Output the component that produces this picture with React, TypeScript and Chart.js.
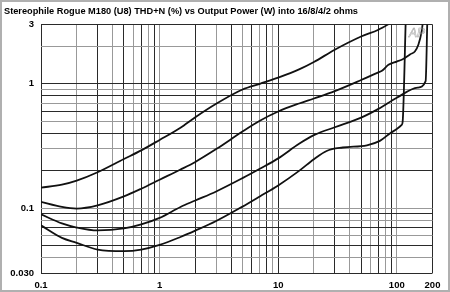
import React, { useEffect, useRef } from "react";
import { Chart, registerables } from "chart.js";

Chart.register(...registerables);

const TITLE = "Stereophile Rogue M180 (U8) THD+N (%) vs Output Power (W) into 16/8/4/2 ohms";
const LOGO = "AP";

// Curve 1 (highest at low power)
const power1 = [0.1, 0.15, 0.2, 0.3, 0.5, 0.7, 1, 1.5, 2, 3, 5, 7, 10, 15, 20, 30, 50, 70, 92];
const thd1 = [0.146, 0.154, 0.166, 0.194, 0.248, 0.291, 0.353, 0.443, 0.538, 0.69, 0.899, 1.0, 1.121, 1.305, 1.498, 1.879, 2.4, 2.72, 3.15];

// Curve 2
const power2 = [0.1, 0.15, 0.2, 0.3, 0.5, 0.7, 1, 1.5, 2, 3, 5, 7, 10, 15, 20, 30, 50, 70, 75, 85, 100, 110, 130, 142, 152, 162, 167];
const thd2 = [0.112, 0.102, 0.099, 0.105, 0.124, 0.143, 0.169, 0.204, 0.235, 0.298, 0.413, 0.504, 0.598, 0.694, 0.761, 0.873, 1.072, 1.237, 1.272, 1.42, 1.509, 1.56, 1.73, 1.82, 2.06, 2.64, 3.3];

// Curve 3
const power3 = [0.1, 0.15, 0.2, 0.3, 0.5, 0.7, 1, 1.5, 2, 3, 5, 7, 10, 15, 20, 30, 50, 70, 100, 150, 175, 181];
const thd3 = [0.0889, 0.0752, 0.0697, 0.066, 0.0685, 0.0738, 0.0833, 0.102, 0.115, 0.136, 0.174, 0.207, 0.251, 0.329, 0.386, 0.447, 0.534, 0.628, 0.772, 0.931, 1.05, 3.3];

// Curve 4 (lowest at low power)
const power4 = [0.1, 0.15, 0.2, 0.3, 0.5, 0.7, 1, 1.5, 2, 3, 5, 7, 10, 15, 20, 25.6, 35, 56, 72, 88, 100, 110, 112, 119];
const thd4 = [0.0725, 0.0575, 0.0525, 0.0463, 0.045, 0.0463, 0.0505, 0.0585, 0.0658, 0.0786, 0.1027, 0.124, 0.152, 0.199, 0.247, 0.288, 0.307, 0.32, 0.347, 0.4, 0.4325, 0.467, 0.493, 3.3];

const xGridTicks = [
  0.1, 0.2, 0.3, 0.4, 0.5, 0.6, 0.7, 0.8, 0.9,
  1, 2, 3, 4, 5, 6, 7, 8, 9,
  10, 20, 30, 40, 50, 60, 70, 80, 90,
  100, 200,
];
const xTickLabels: Record<string, string> = { "0.1": "0.1", "1": "1", "10": "10", "100": "100", "200": "200" };

const yGridTicks = [
  0.03, 0.04, 0.05, 0.06, 0.07, 0.08, 0.09,
  0.1, 0.2, 0.3, 0.4, 0.5, 0.6, 0.7, 0.8, 0.9,
  1, 2, 3,
];
const yTickLabels: Record<string, string> = { "0.03": "0.030", "0.1": "0.1", "1": "1", "3": "3" };

const toPoints = (xs: number[], ys: number[]) => xs.map((x, i) => ({ x, y: ys[i] }));

const FONT = "'Liberation Sans', Arial, sans-serif";

export default function App() {
  const ref = useRef<HTMLCanvasElement | null>(null);

  useEffect(() => {
    document.body.style.margin = "0";
    const canvas = ref.current!;
    const decor = {
      id: "decor",
      afterDraw(chart: any) {
        const ctx = chart.ctx;
        ctx.save();
        // title
        ctx.font = `bold 9.5px ${FONT}`;
        ctx.fillStyle = "#000";
        ctx.textBaseline = "alphabetic";
        ctx.textAlign = "left";
        const w = ctx.measureText(TITLE).width;
        const target = 354;
        ctx.translate(4, 14);
        ctx.scale(target / w, 1);
        ctx.fillText(TITLE, 0, 0);
        ctx.restore();
        // logo
        ctx.save();
        ctx.font = `italic 12px ${FONT}`;
        ctx.strokeStyle = "#999";
        ctx.lineWidth = 0.5;
        ctx.strokeText(LOGO, 409, 37);
        ctx.restore();
        // frame
        ctx.save();
        ctx.strokeStyle = "#b0b0b0";
        ctx.lineWidth = 2;
        ctx.strokeRect(1, 1, 448, 290);
        ctx.restore();
      },
    };

    const mk = (xs: number[], ys: number[]) => ({
      data: toPoints(xs, ys),
      borderColor: "#111",
      borderWidth: 1.8,
      pointRadius: 0,
      fill: false,
      cubicInterpolationMode: "monotone" as const,
    });

    const gridColor = (c: any) => (c.index % 2 ? "#999" : "#2a2a2a");

    const chart = new Chart(canvas, {
      type: "line",
      data: {
        datasets: [mk(power1, thd1), mk(power2, thd2), mk(power3, thd3), mk(power4, thd4)],
      },
      options: {
        animation: false,
        responsive: false,
        devicePixelRatio: 1,
        layout: { padding: { left: 0, top: 24.5, right: 17.5, bottom: 0 } },
        plugins: { legend: { display: false }, title: { display: false }, tooltip: { enabled: false } },
        scales: {
          x: {
            type: "logarithmic",
            min: 0.1,
            max: 200,
            afterFit: (s: any) => { s.height = 19; },
            afterBuildTicks: (s: any) => { s.ticks = xGridTicks.map((v) => ({ value: v })); },
            ticks: {
              autoSkip: false,
              maxRotation: 0,
              padding: 7,
              color: "#000",
              font: { family: FONT, size: 9.5, weight: "bold" },
              callback: (v: any) => xTickLabels[String(v)] ?? "",
            },
            grid: { color: gridColor, lineWidth: 1, drawTicks: false },
            border: { display: false },
          },
          y: {
            type: "logarithmic",
            min: 0.03,
            max: 3,
            afterFit: (s: any) => { s.width = 41; },
            afterBuildTicks: (s: any) => { s.ticks = yGridTicks.map((v) => ({ value: v })); },
            ticks: {
              autoSkip: false,
              padding: 7,
              color: "#000",
              font: { family: FONT, size: 9.5, weight: "bold" },
              callback: (v: any) => yTickLabels[String(v)] ?? "",
            },
            grid: { color: gridColor, lineWidth: 1, drawTicks: false },
            border: { display: false },
          },
        },
      },
      plugins: [decor],
    } as any);
    return () => chart.destroy();
  }, []);

  return (
    <div style={{ width: 450, height: 292, background: "#fff" }}>
      <canvas ref={ref} width={450} height={292} style={{ display: "block" }} />
    </div>
  );
}
